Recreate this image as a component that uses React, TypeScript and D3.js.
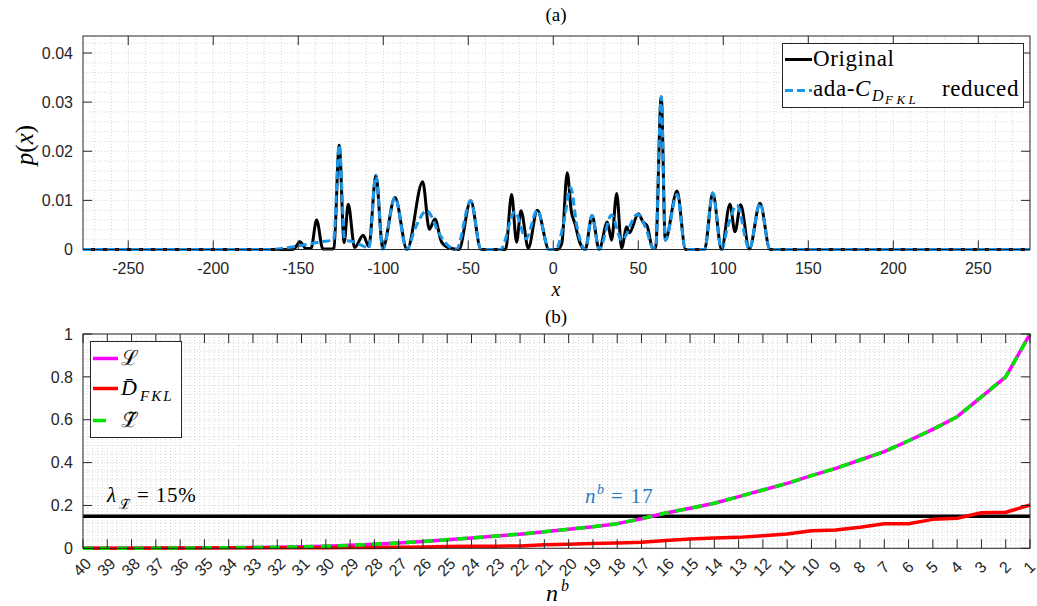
import React from "react";
import * as d3 from "d3";

const W = 1037;
const H = 606;

// Panel (a): original mixture density, sampled at peaks and troughs
const originalX = [
  -276.6, -155, -152.5, -149, -145.5, -142.5, -139.2, -135.5, -130, -129, -125.9, -123, -120.6,
  -116.8, -111.8, -108.5, -104.3, -100.3, -93.1, -86, -76.8, -72.9, -69.6, -65.7, -61, -55.5,
  -48.6, -42.5, -28, -24.5, -21.6, -19, -14.7, -9.4, -2.5, 2.5, 5, 8.2, 10.6, 12.8, 15.5, 18.8,
  22.8, 27, 31.8, 34.3, 37.3, 40.2, 43.2, 44.8, 50, 52.8, 55.2, 58.5, 60.2, 63.5, 65.9, 72.8,
  77.8, 89, 93.8, 99, 103.9, 106.9, 110.2, 115.3, 121.6, 127.5, 280.4,
];
const originalP = [
  0, 0, 0.0001, 0.0016, 0.0002, 0.0002, 0.006, 0.0001, 0.0001, 0.0003, 0.0212, 0.0014, 0.0092,
  0.0004, 0.0029, 0.0006, 0.0151, 0.0002, 0.0106, 0, 0.0138, 0.0041, 0.0062, 0.0015, 0.0003, 0,
  0.0099, 0, 0, 0.0112, 0.0015, 0.0079, 0.0003, 0.008, 0, 0, 0.0012, 0.0156, 0.0078, 0.0052,
  0.0015, 0, 0.0069, 0, 0.0056, 0.0019, 0.0114, 0.0003, 0.0046, 0.0034, 0.0073, 0.0056, 0.0048,
  0.0003, 0.0003, 0.0311, 0.0019, 0.0119, 0, 0, 0.0115, 0, 0.0092, 0.0036, 0.0091, 0.0001,
  0.0094, 0, 0,
];

// Panel (a): reduced mixture density
const reducedX = [
  -276.6, -168, -160, -152, -144, -136, -130, -129.2, -125.9, -122.7, -118, -113, -108.5,
  -104.3, -100.3, -93.1, -86.2, -81, -74.5, -66.7, -62.5, -57, -48.6, -42.5, -31, -22.6, -16,
  -9.4, -2.5, 1.5, 6.3, 10.2, 14, 18.8, 22.8, 27, 34.3, 40.2, 49.5, 55, 58.5, 60.2, 63.5, 65.9,
  72.8, 77.8, 89, 93.8, 99, 102.5, 108, 115.3, 121.6, 127.5, 280.4,
];
const reducedP = [
  0, 0, 0.0002, 0.0006, 0.0011, 0.0016, 0.0019, 0.002, 0.0213, 0.002, 0.0016, 0.0009, 0.0003,
  0.0151, 0.0001, 0.0106, 0, 0.0045, 0.0079, 0.003, 0.001, 0, 0.0099, 0, 0, 0.0077, 0.0022,
  0.008, 0, 0, 0.0057, 0.0126, 0.0045, 0, 0.0069, 0, 0.007, 0.0019, 0.0072, 0.0038, 0.0004,
  0.0004, 0.0311, 0.0019, 0.0112, 0, 0, 0.0115, 0, 0.0045, 0.009, 0.0001, 0.0094, 0, 0,
];

const xTicksA = [-250, -200, -150, -100, -50, 0, 50, 100, 150, 200, 250];
const yTicksA = [0, 0.01, 0.02, 0.03, 0.04];

// Panel (b): loss curves against the number of components
const nComponents = [
  40, 39, 38, 37, 36, 35, 34, 33, 32, 31, 30, 29, 28, 27, 26, 25, 24, 23, 22, 21, 20, 19, 18,
  17, 16, 15, 14, 13, 12, 11, 10, 9, 8, 7, 6, 5, 4, 3, 2, 1,
];
const lossL = [
  0, 0.0002, 0.0005, 0.001, 0.0015, 0.002, 0.003, 0.004, 0.005, 0.007, 0.01, 0.014, 0.019, 0.025,
  0.032, 0.04, 0.048, 0.057, 0.066, 0.077, 0.089, 0.101, 0.115, 0.138, 0.165, 0.187, 0.21, 0.241,
  0.272, 0.303, 0.339, 0.373, 0.412, 0.451, 0.502, 0.555, 0.614, 0.707, 0.8, 1.0,
];
const lossD = [
  0, 0, 0.0005, 0.001, 0.001, 0.0015, 0.002, 0.002, 0.0025, 0.003, 0.003, 0.004, 0.004, 0.005,
  0.006, 0.008, 0.009, 0.01, 0.011, 0.016, 0.019, 0.022, 0.025, 0.028, 0.036, 0.043, 0.048,
  0.051, 0.059, 0.067, 0.082, 0.085, 0.098, 0.115, 0.115, 0.135, 0.14, 0.166, 0.168, 0.202,
];
const lossLTilde = [
  0, 0.0002, 0.0005, 0.001, 0.0015, 0.002, 0.003, 0.004, 0.005, 0.007, 0.01, 0.014, 0.019, 0.025,
  0.032, 0.04, 0.048, 0.057, 0.066, 0.077, 0.089, 0.101, 0.115, 0.138, 0.165, 0.187, 0.21, 0.241,
  0.272, 0.303, 0.339, 0.373, 0.412, 0.451, 0.502, 0.555, 0.614, 0.707, 0.8, 1.0,
];
const threshold = 0.15;
const chosenN = 17;
const yTicksB = [0, 0.2, 0.4, 0.6, 0.8, 1];

const SANS = "'Liberation Sans', Arial, Helvetica, sans-serif";
const SERIF = "'Liberation Serif', 'Times New Roman', serif";
const AXIS = "#262626";
const BLUE = "#1a97ea";
const MAGENTA = "#ff00ff";
const GREEN = "#00e600";
const RED = "#ff0000";
const NOTE = "#2a7bbd";

const A = { l: 83, r: 1030, t: 36, b: 249.5 };
const B = { l: 83, r: 1030, t: 334, b: 548.3 };
const TICK = 9;

function Frame({ box }: { box: { l: number; r: number; t: number; b: number } }) {
  return (
    <rect
      x={box.l}
      y={box.t}
      width={box.r - box.l}
      height={box.b - box.t}
      fill="none"
      stroke={AXIS}
      strokeWidth={1}
    />
  );
}

export default function App() {
  const xA = d3.scaleLinear().domain([-276.6, 280.4]).range([A.l, A.r]);
  const yA = d3.scaleLinear().domain([0, 0.04346]).range([A.b, A.t]);
  const xB = d3.scaleLinear().domain([40, 1]).range([B.l, B.r]);
  const yB = d3.scaleLinear().domain([0, 1]).range([B.b, B.t]);

  const lineA = d3
    .line<[number, number]>()
    .x((d) => xA(d[0]))
    .y((d) => yA(d[1]))
    .curve(d3.curveMonotoneX);
  const lineB = d3
    .line<[number, number]>()
    .x((d) => xB(d[0]))
    .y((d) => yB(d[1]));

  const origPts = originalX.map((x, i) => [x, originalP[i]] as [number, number]);
  const redPts = reducedX.map((x, i) => [x, reducedP[i]] as [number, number]);
  const lPts = nComponents.map((n, i) => [n, lossL[i]] as [number, number]);
  const dPts = nComponents.map((n, i) => [n, lossD[i]] as [number, number]);
  const ltPts = nComponents.map((n, i) => [n, lossLTilde[i]] as [number, number]);

  // grid positions (major + minor)
  const gridAX = d3.range(-270, 281, 10);
  const gridAY = d3.range(0, 0.0435, 0.002);
  const gridBX = d3.range(1, 40.001, 0.2);
  const gridBY = d3.range(0, 1.0001, 0.04);

  const dotted = { stroke: "#d6d6d6", strokeWidth: 1, strokeDasharray: "1,2" };

  return (
    <svg
      width={W}
      height={H}
      viewBox={`0 0 ${W} ${H}`}
      style={{ position: "absolute", left: 0, top: 0, display: "block", background: "#fff" }}
    >
      <rect x={0} y={0} width={W} height={H} fill="#fff" />

      {/* ---------- panel (a) ---------- */}
      <text x={556} y={21} textAnchor="middle" fontFamily={SERIF} fontSize={19} fill="#000">
        (a)
      </text>
      <g>
        {gridAX.map((v) => (
          <line key={"gax" + v} x1={xA(v)} x2={xA(v)} y1={A.t} y2={A.b} {...dotted} />
        ))}
        {gridAY.map((v) => (
          <line key={"gay" + v} x1={A.l} x2={A.r} y1={yA(v)} y2={yA(v)} {...dotted} />
        ))}
      </g>
      <path d={lineA(origPts) || ""} fill="none" stroke="#000" strokeWidth={3} strokeLinejoin="round" />
      <path
        d={lineA(redPts) || ""}
        fill="none"
        stroke={BLUE}
        strokeWidth={3}
        strokeDasharray="8,4"
        strokeLinejoin="round"
      />
      <Frame box={A} />
      {xTicksA.map((v) => (
        <g key={"xta" + v}>
          <line x1={xA(v)} x2={xA(v)} y1={A.b} y2={A.b - TICK} stroke={AXIS} />
          <line x1={xA(v)} x2={xA(v)} y1={A.t} y2={A.t + TICK} stroke={AXIS} />
          <text x={xA(v)} y={274} textAnchor="middle" fontFamily={SANS} fontSize={16} fill={AXIS}>
            {String(v)}
          </text>
        </g>
      ))}
      {yTicksA.map((v) => (
        <g key={"yta" + v}>
          <line x1={A.l} x2={A.l + TICK} y1={yA(v)} y2={yA(v)} stroke={AXIS} />
          <line x1={A.r} x2={A.r - TICK} y1={yA(v)} y2={yA(v)} stroke={AXIS} />
          <text
            x={73}
            y={yA(v)}
            dy="0.36em"
            textAnchor="end"
            fontFamily={SANS}
            fontSize={16}
            fill={AXIS}
          >
            {v === 0 ? "0" : v.toFixed(2)}
          </text>
        </g>
      ))}
      <text x={556} y={296} textAnchor="middle" fontFamily={SERIF} fontSize={20} fontStyle="italic">
        x
      </text>
      <text
        transform="translate(33,145) rotate(-90)"
        textAnchor="middle"
        fontFamily={SERIF}
        fontSize={25}
      >
        <tspan fontStyle="italic">p</tspan>(<tspan fontStyle="italic">x</tspan>)
      </text>

      {/* legend (a) */}
      <rect x={782.5} y={43.5} width={241} height={64} fill="#fff" stroke={AXIS} strokeWidth={1} />
      <line x1={785} x2={812} y1={59.5} y2={59.5} stroke="#000" strokeWidth={3} />
      <text x={813} y={66} fontFamily={SERIF} fontSize={23} fill="#000" letterSpacing={0.6}>
        Original
      </text>
      <line x1={785} x2={812} y1={90.5} y2={90.5} stroke={BLUE} strokeWidth={3} strokeDasharray="8,4" />
      <text x={813} y={96} fontFamily={SERIF} fontSize={23} fill="#000" letterSpacing={0.6}>
        ada-
      </text>
      <text x={855} y={96} fontFamily={SERIF} fontSize={23} fontStyle="italic" fill="#000">
        C
      </text>
      <text x={872} y={101} fontFamily={SERIF} fontSize={16} fontStyle="italic" fill="#000">
        D
      </text>
      <text
        x={885}
        y={104}
        fontFamily={SERIF}
        fontSize={13}
        fontStyle="italic"
        fill="#000"
        letterSpacing={3.5}
      >
        FKL
      </text>
      <text
        x={1019}
        y={96}
        textAnchor="end"
        fontFamily={SERIF}
        fontSize={23}
        fill="#000"
        letterSpacing={0.6}
      >
        reduced
      </text>

      {/* ---------- panel (b) ---------- */}
      <text x={556} y={323} textAnchor="middle" fontFamily={SERIF} fontSize={19} fill="#000">
        (b)
      </text>
      <g>
        {gridBX.map((v, i) => (
          <line key={"gbx" + i} x1={xB(v)} x2={xB(v)} y1={B.t} y2={B.b} {...dotted} />
        ))}
        {gridBY.map((v, i) => (
          <line key={"gby" + i} x1={B.l} x2={B.r} y1={yB(v)} y2={yB(v)} {...dotted} />
        ))}
      </g>
      <line
        x1={B.l}
        x2={B.r}
        y1={yB(threshold)}
        y2={yB(threshold)}
        stroke="#000"
        strokeWidth={3.5}
      />
      <path d={lineB(lPts) || ""} fill="none" stroke={MAGENTA} strokeWidth={3.5} strokeLinejoin="round" />
      <path d={lineB(dPts) || ""} fill="none" stroke={RED} strokeWidth={3.5} strokeLinejoin="round" />
      <path
        d={lineB(ltPts) || ""}
        fill="none"
        stroke={GREEN}
        strokeWidth={3.5}
        strokeDasharray="10,7"
        strokeLinejoin="round"
      />
      <Frame box={B} />
      {nComponents.map((n) => (
        <g key={"xtb" + n}>
          <line x1={xB(n)} x2={xB(n)} y1={B.b} y2={B.b - TICK} stroke={AXIS} />
          <line x1={xB(n)} x2={xB(n)} y1={B.t} y2={B.t + TICK} stroke={AXIS} />
          <text
            transform={`translate(${xB(n) - 1},567) rotate(-45)`}
            textAnchor="middle"
            dy="0.36em"
            fontFamily={SANS}
            fontSize={16}
            fill={AXIS}
          >
            {String(n)}
          </text>
        </g>
      ))}
      {yTicksB.map((v) => (
        <g key={"ytb" + v}>
          <line x1={B.l} x2={B.l + TICK} y1={yB(v)} y2={yB(v)} stroke={AXIS} />
          <line x1={B.r} x2={B.r - TICK} y1={yB(v)} y2={yB(v)} stroke={AXIS} />
          <text
            x={73}
            y={yB(v)}
            dy="0.36em"
            textAnchor="end"
            fontFamily={SANS}
            fontSize={16}
            fill={AXIS}
          >
            {String(v)}
          </text>
        </g>
      ))}
      <text x={546} y={601} fontFamily={SERIF} fontSize={24} fontStyle="italic">
        n
      </text>
      <text x={561} y={591} fontFamily={SERIF} fontSize={16} fontStyle="italic">
        b
      </text>

      {/* threshold annotation */}
      <text x={107} y={502} fontFamily={SERIF} fontSize={21} fontStyle="italic" fill="#000">
        λ
      </text>
      <text x={119} y={509} fontFamily={SERIF} fontSize={14} fill="#000">
        {"\u2112\u0303"}
      </text>
      <text x={137} y={502} fontFamily={SERIF} fontSize={21} fill="#000" letterSpacing={0.8}>
        = 15%
      </text>

      {/* chosen number of components */}
      <text x={585} y={503} fontFamily={SERIF} fontSize={21} fontStyle="italic" fill={NOTE}>
        n
      </text>
      <text x={597} y={494} fontFamily={SERIF} fontSize={14} fontStyle="italic" fill={NOTE}>
        b
      </text>
      <text x={611} y={503} fontFamily={SERIF} fontSize={21} fill={NOTE} letterSpacing={1.2}>
        {"= " + chosenN}
      </text>

      {/* legend (b) */}
      <rect x={90.5} y={341.5} width={91} height={96} fill="#fff" stroke={AXIS} strokeWidth={1} />
      <line x1={93} x2={118} y1={358.5} y2={358.5} stroke={MAGENTA} strokeWidth={3.5} />
      <text x={121} y={365} fontFamily={SERIF} fontSize={21} fill="#000">
        {"\u2112"}
      </text>
      <line x1={93} x2={118} y1={388.5} y2={388.5} stroke={RED} strokeWidth={3.5} />
      <text x={121} y={395} fontFamily={SERIF} fontSize={22} fontStyle="italic" fill="#000">
        {"D\u0304"}
      </text>
      <text
        x={140}
        y={401}
        fontFamily={SERIF}
        fontSize={15}
        fontStyle="italic"
        fill="#000"
        letterSpacing={2}
      >
        FKL
      </text>
      <line x1={93} x2={106} y1={420.5} y2={420.5} stroke={GREEN} strokeWidth={3.5} />
      <text x={121} y={427} fontFamily={SERIF} fontSize={21} fill="#000">
        {"\u2112\u0303"}
      </text>
    </svg>
  );
}
